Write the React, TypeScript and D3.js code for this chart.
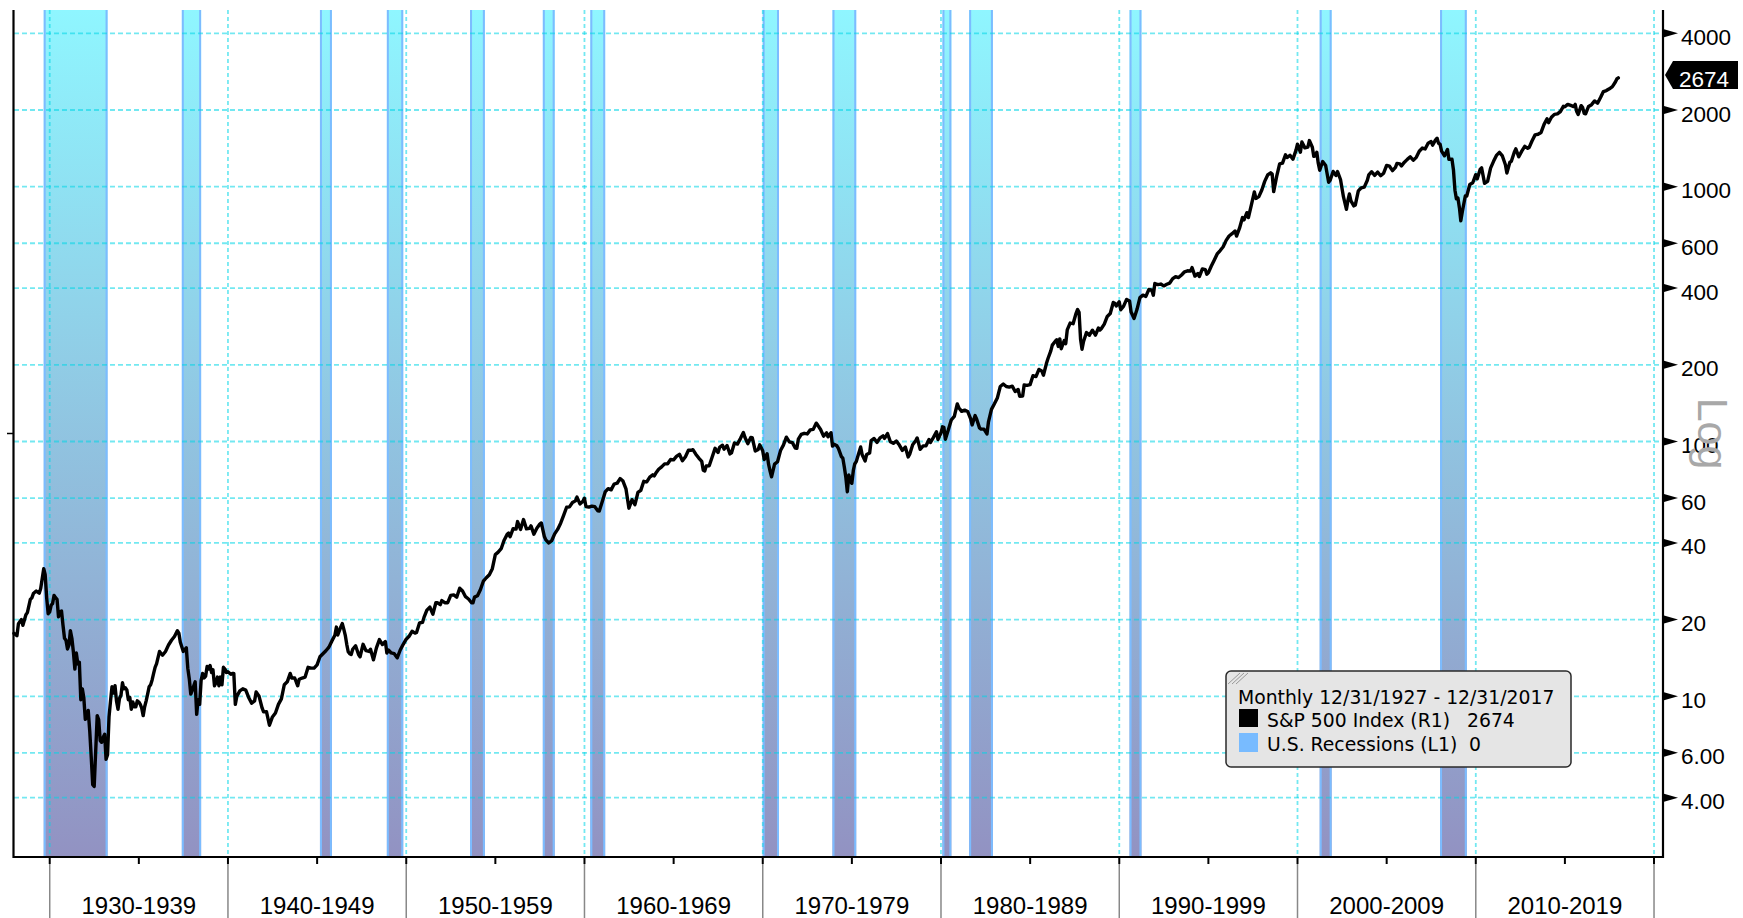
import React, { useEffect } from 'react';
import * as d3 from 'd3';

// ---------- data ----------
type Pt = [string, number];

const SP_1920s: Pt[] = [
  ['1927-12', 17.66], ['1928-02', 17.3], ['1928-03', 19.28], ['1928-05', 20.0], ['1928-06', 19.0],
  ['1928-08', 20.9], ['1928-09', 21.3], ['1928-11', 24.0], ['1928-12', 24.35],
  ['1929-01', 25.3], ['1929-03', 25.9], ['1929-05', 25.4], ['1929-06', 26.5], ['1929-08', 31.7],
  ['1929-09', 30.0], ['1929-10', 24.3], ['1929-11', 21.1], ['1929-12', 21.45],
];
const SP_1930s: Pt[] = [
  ['1930-01', 22.8], ['1930-02', 23.1], ['1930-03', 24.9], ['1930-04', 24.4], ['1930-05', 24.0],
  ['1930-06', 20.5], ['1930-07', 21.5], ['1930-08', 21.6], ['1930-09', 19.0], ['1930-10', 16.9],
  ['1930-11', 16.6], ['1930-12', 15.34],
  ['1931-01', 15.9], ['1931-02', 18.1], ['1931-03', 16.9], ['1931-04', 15.0], ['1931-05', 12.8],
  ['1931-06', 14.8], ['1931-07', 13.4], ['1931-08', 13.6], ['1931-09', 9.7], ['1931-10', 10.7],
  ['1931-11', 9.9], ['1931-12', 8.12],
  ['1932-01', 8.3], ['1932-02', 8.8], ['1932-03', 7.3], ['1932-04', 5.8], ['1932-05', 4.5],
  ['1932-06', 4.43], ['1932-07', 6.1], ['1932-08', 8.4], ['1932-09', 8.1], ['1932-10', 6.7],
  ['1932-11', 6.6], ['1932-12', 6.89],
  ['1933-01', 7.1], ['1933-02', 5.66], ['1933-03', 5.9], ['1933-04', 8.3], ['1933-05', 9.6],
  ['1933-06', 10.9], ['1933-07', 10.3], ['1933-08', 11.0], ['1933-09', 9.6], ['1933-10', 8.9],
  ['1933-11', 9.8], ['1933-12', 10.1],
  ['1934-01', 11.3], ['1934-02', 10.7], ['1934-03', 10.8], ['1934-04', 10.6], ['1934-05', 9.7],
  ['1934-06', 9.9], ['1934-07', 8.9], ['1934-08', 9.5], ['1934-09', 9.1], ['1934-10', 9.1],
  ['1934-11', 9.6], ['1934-12', 9.5],
  ['1935-01', 9.3], ['1935-02', 9.0], ['1935-03', 8.4], ['1935-04', 9.1], ['1935-05', 9.6],
  ['1935-06', 10.2], ['1935-07', 10.9], ['1935-08', 11.1], ['1935-09', 11.6], ['1935-10', 12.3],
  ['1935-11', 13.0], ['1935-12', 13.43],
  ['1936-02', 15.0], ['1936-04', 14.5], ['1936-06', 15.0], ['1936-08', 15.9], ['1936-10', 16.6],
  ['1936-12', 17.18],
  ['1937-02', 18.1], ['1937-03', 17.7], ['1937-04', 16.3], ['1937-06', 15.0], ['1937-08', 15.5],
  ['1937-09', 12.9], ['1937-10', 11.7], ['1937-11', 10.2], ['1937-12', 10.55],
  ['1938-01', 11.0], ['1938-02', 11.4], ['1938-03', 8.5], ['1938-04', 9.7], ['1938-05', 9.3],
  ['1938-06', 11.56], ['1938-07', 12.3], ['1938-08', 11.8], ['1938-09', 12.0], ['1938-10', 13.1],
  ['1938-11', 12.8], ['1938-12', 13.21],
  ['1939-01', 12.4], ['1939-02', 12.7], ['1939-03', 11.0], ['1939-04', 11.3], ['1939-05', 11.9],
  ['1939-06', 11.0], ['1939-07', 11.9], ['1939-08', 11.1], ['1939-09', 13.0], ['1939-10', 12.8],
  ['1939-11', 12.4], ['1939-12', 12.49],
];
const SP_1940s: Pt[] = [
  ['1940-02', 12.2], ['1940-03', 12.3], ['1940-04', 12.3], ['1940-05', 9.3], ['1940-06', 10.0],
  ['1940-08', 10.5], ['1940-10', 10.7], ['1940-12', 10.58],
  ['1941-02', 9.9], ['1941-04', 9.4], ['1941-06', 9.6], ['1941-07', 10.4], ['1941-09', 10.0],
  ['1941-11', 9.0], ['1941-12', 8.69],
  ['1942-02', 8.7], ['1942-04', 7.7], ['1942-06', 8.3], ['1942-08', 8.6], ['1942-10', 9.3],
  ['1942-12', 9.77],
  ['1943-02', 11.1], ['1943-04', 11.4], ['1943-06', 12.3], ['1943-07', 11.8], ['1943-09', 11.8],
  ['1943-11', 11.0], ['1943-12', 11.67],
  ['1944-02', 11.8], ['1944-04', 11.9], ['1944-06', 13.0], ['1944-08', 12.9], ['1944-10', 12.9],
  ['1944-12', 13.28],
  ['1945-02', 14.3], ['1945-04', 14.7], ['1945-06', 15.1], ['1945-08', 15.6], ['1945-10', 16.5],
  ['1945-12', 17.36],
  ['1946-01', 18.7], ['1946-02', 17.4], ['1946-04', 18.7], ['1946-05', 19.3], ['1946-06', 18.4],
  ['1946-07', 17.4], ['1946-08', 16.0], ['1946-09', 14.96], ['1946-10', 14.7], ['1946-11', 14.6],
  ['1946-12', 15.3],
  ['1947-02', 15.8], ['1947-04', 14.6], ['1947-05', 14.3], ['1947-07', 16.0], ['1947-09', 15.1],
  ['1947-11', 15.0], ['1947-12', 15.3],
  ['1948-02', 13.9], ['1948-04', 15.5], ['1948-06', 16.7], ['1948-08', 15.97], ['1948-10', 16.4],
  ['1948-11', 14.8], ['1948-12', 15.2],
  ['1949-02', 14.8], ['1949-04', 14.7], ['1949-06', 14.16], ['1949-08', 15.2], ['1949-10', 16.0],
  ['1949-12', 16.76],
];
const SP_1950s: Pt[] = [
  ['1950-02', 17.2], ['1950-04', 18.0], ['1950-06', 17.7], ['1950-07', 17.8], ['1950-09', 19.4],
  ['1950-11', 19.5], ['1950-12', 20.41],
  ['1951-02', 21.8], ['1951-04', 22.4], ['1951-06', 21.0], ['1951-08', 23.3], ['1951-09', 23.3],
  ['1951-11', 22.9], ['1951-12', 23.77],
  ['1952-02', 23.3], ['1952-04', 23.3], ['1952-06', 24.9], ['1952-08', 25.0], ['1952-10', 24.5],
  ['1952-12', 26.57],
  ['1953-02', 25.9], ['1953-04', 24.6], ['1953-06', 24.1], ['1953-08', 23.3], ['1953-09', 23.3],
  ['1953-10', 24.5], ['1953-12', 24.81],
  ['1954-02', 26.2], ['1954-04', 28.3], ['1954-06', 29.2], ['1954-08', 30.0], ['1954-10', 31.7],
  ['1954-12', 35.98],
  ['1955-02', 36.8], ['1955-04', 37.96], ['1955-06', 41.0], ['1955-08', 43.2], ['1955-09', 43.7],
  ['1955-10', 42.3], ['1955-12', 45.48],
  ['1956-02', 45.3], ['1956-03', 48.5], ['1956-05', 45.2], ['1956-07', 49.4], ['1956-09', 45.4],
  ['1956-11', 45.6], ['1956-12', 46.67],
  ['1957-02', 43.3], ['1957-04', 45.7], ['1957-06', 47.4], ['1957-07', 47.9], ['1957-09', 42.4],
  ['1957-10', 41.1], ['1957-12', 39.99],
  ['1958-02', 40.8], ['1958-04', 43.4], ['1958-06', 45.2], ['1958-08', 47.8], ['1958-10', 51.3],
  ['1958-12', 55.21],
  ['1959-02', 55.4], ['1959-04', 57.6], ['1959-06', 58.5], ['1959-07', 60.5], ['1959-09', 56.9],
  ['1959-11', 58.3], ['1959-12', 59.89],
];
const SP_1960s: Pt[] = [
  ['1960-01', 55.6], ['1960-03', 55.3], ['1960-05', 55.8], ['1960-07', 55.5], ['1960-09', 53.5],
  ['1960-10', 53.4], ['1960-12', 58.11],
  ['1961-02', 63.4], ['1961-04', 65.3], ['1961-06', 64.6], ['1961-08', 68.1], ['1961-10', 68.6],
  ['1961-12', 71.55],
  ['1962-02', 69.96], ['1962-04', 65.2], ['1962-05', 59.6], ['1962-06', 54.75], ['1962-08', 59.1],
  ['1962-10', 56.5], ['1962-12', 63.1],
  ['1963-02', 64.3], ['1963-04', 69.8], ['1963-06', 69.4], ['1963-08', 72.5], ['1963-10', 74.0],
  ['1963-11', 73.2], ['1963-12', 75.02],
  ['1964-02', 77.8], ['1964-04', 79.5], ['1964-06', 81.7], ['1964-08', 81.8], ['1964-10', 85.0],
  ['1964-12', 84.75],
  ['1965-02', 87.4], ['1965-04', 89.1], ['1965-06', 84.1], ['1965-08', 87.2], ['1965-10', 92.4],
  ['1965-12', 92.43],
  ['1966-01', 92.9], ['1966-03', 89.2], ['1966-05', 86.1], ['1966-07', 83.6], ['1966-08', 77.1],
  ['1966-09', 76.6], ['1966-10', 80.2], ['1966-12', 80.33],
  ['1967-02', 86.8], ['1967-04', 94.0], ['1967-06', 90.6], ['1967-07', 94.8], ['1967-09', 96.7],
  ['1967-10', 93.3], ['1967-12', 96.47],
  ['1968-02', 89.4], ['1968-03', 90.2], ['1968-05', 98.7], ['1968-07', 97.7], ['1968-09', 102.7],
  ['1968-11', 108.4], ['1968-12', 103.86],
  ['1969-02', 98.1], ['1969-04', 103.7], ['1969-05', 103.5], ['1969-06', 97.7], ['1969-07', 91.8],
  ['1969-09', 93.1], ['1969-10', 97.1], ['1969-12', 92.06],
];
const SP_1970s: Pt[] = [
  ['1970-01', 85.0], ['1970-03', 89.6], ['1970-04', 81.5], ['1970-05', 76.6], ['1970-06', 72.7],
  ['1970-08', 81.5], ['1970-10', 83.3], ['1970-12', 92.15],
  ['1971-02', 96.8], ['1971-04', 104.0], ['1971-06', 99.7], ['1971-08', 99.0], ['1971-10', 94.2],
  ['1971-11', 93.99], ['1971-12', 102.09],
  ['1972-02', 106.6], ['1972-04', 107.7], ['1972-06', 107.1], ['1972-08', 111.1], ['1972-10', 111.6],
  ['1972-12', 118.05],
  ['1973-01', 116.0], ['1973-03', 111.5], ['1973-05', 104.95], ['1973-07', 108.2], ['1973-08', 104.3],
  ['1973-10', 108.3], ['1973-11', 95.96], ['1973-12', 97.55],
  ['1974-02', 96.2], ['1974-03', 93.98], ['1974-05', 87.3], ['1974-06', 86.0], ['1974-07', 79.3],
  ['1974-08', 72.2], ['1974-09', 63.54], ['1974-10', 73.9], ['1974-11', 69.97], ['1974-12', 68.56],
  ['1975-01', 76.98], ['1975-02', 81.6], ['1975-03', 83.36], ['1975-05', 91.2], ['1975-06', 95.19],
  ['1975-07', 88.75], ['1975-09', 83.87], ['1975-10', 89.0], ['1975-12', 90.19],
  ['1976-01', 100.86], ['1976-03', 102.8], ['1976-05', 99.2], ['1976-07', 103.4], ['1976-09', 105.2],
  ['1976-10', 102.9], ['1976-12', 107.46],
  ['1977-02', 99.8], ['1977-04', 98.4], ['1977-06', 100.5], ['1977-08', 96.8], ['1977-10', 92.3],
  ['1977-12', 95.1],
  ['1978-02', 87.0], ['1978-03', 89.2], ['1978-05', 97.2], ['1978-07', 100.7], ['1978-08', 103.3],
  ['1978-10', 93.2], ['1978-12', 96.11],
  ['1979-02', 96.3], ['1979-04', 101.8], ['1979-05', 99.1], ['1979-07', 103.8], ['1979-09', 109.3],
  ['1979-10', 101.8], ['1979-12', 107.94],
];
const SP_1980s: Pt[] = [
  ['1980-01', 114.2], ['1980-02', 113.7], ['1980-03', 102.1], ['1980-05', 111.2], ['1980-07', 121.7],
  ['1980-09', 125.5], ['1980-11', 140.5], ['1980-12', 135.76],
  ['1981-02', 131.3], ['1981-04', 132.8], ['1981-06', 131.2], ['1981-08', 122.8], ['1981-09', 116.2],
  ['1981-11', 126.4], ['1981-12', 122.55],
  ['1982-02', 113.1], ['1982-03', 111.96], ['1982-05', 111.9], ['1982-07', 107.1], ['1982-08', 119.5],
  ['1982-10', 133.7], ['1982-12', 140.64],
  ['1983-02', 148.1], ['1983-04', 164.4], ['1983-06', 168.1], ['1983-08', 164.4], ['1983-10', 163.6],
  ['1983-12', 164.93],
  ['1984-02', 157.1], ['1984-04', 160.1], ['1984-05', 150.6], ['1984-07', 150.7], ['1984-08', 166.7],
  ['1984-10', 166.1], ['1984-12', 167.24],
  ['1985-02', 181.2], ['1985-04', 179.8], ['1985-06', 191.85], ['1985-08', 188.6], ['1985-09', 182.08],
  ['1985-11', 202.2], ['1985-12', 211.28],
  ['1986-02', 226.9], ['1986-03', 238.9], ['1986-05', 247.4], ['1986-06', 250.84], ['1986-07', 236.1],
  ['1986-08', 252.9], ['1986-09', 231.32], ['1986-11', 249.2], ['1986-12', 242.17],
  ['1987-01', 274.1], ['1987-03', 291.7], ['1987-05', 290.1], ['1987-07', 318.7], ['1987-08', 329.8],
  ['1987-09', 321.8], ['1987-10', 251.8], ['1987-11', 230.3], ['1987-12', 247.08],
  ['1988-02', 267.8], ['1988-04', 261.3], ['1988-06', 273.5], ['1988-08', 261.5], ['1988-10', 278.97],
  ['1988-11', 273.7], ['1988-12', 277.72],
  ['1989-02', 288.9], ['1989-04', 309.6], ['1989-06', 317.98], ['1989-08', 351.45], ['1989-09', 349.15],
  ['1989-10', 340.36], ['1989-12', 353.4],
];
const SP_1990s: Pt[] = [
  ['1990-01', 329.08], ['1990-03', 339.94], ['1990-05', 361.23], ['1990-07', 356.15], ['1990-08', 322.56],
  ['1990-10', 304.0], ['1990-12', 330.22],
  ['1991-02', 367.07], ['1991-04', 375.35], ['1991-06', 371.16], ['1991-08', 395.43], ['1991-10', 392.45],
  ['1991-11', 375.22], ['1991-12', 417.09],
  ['1992-02', 412.7], ['1992-04', 414.95], ['1992-06', 408.14], ['1992-08', 414.03], ['1992-10', 418.68],
  ['1992-12', 435.71],
  ['1993-02', 443.38], ['1993-04', 440.19], ['1993-06', 450.53], ['1993-08', 463.56], ['1993-10', 467.83],
  ['1993-12', 466.45],
  ['1994-01', 481.61], ['1994-03', 445.77], ['1994-05', 456.5], ['1994-06', 444.27], ['1994-08', 475.49],
  ['1994-10', 472.35], ['1994-11', 453.69], ['1994-12', 459.27],
  ['1995-02', 487.39], ['1995-04', 514.71], ['1995-06', 544.75], ['1995-08', 561.88], ['1995-10', 581.5],
  ['1995-12', 615.93],
  ['1996-02', 640.43], ['1996-04', 654.17], ['1996-06', 670.63], ['1996-07', 639.95], ['1996-09', 687.31],
  ['1996-11', 757.02], ['1996-12', 740.74],
  ['1997-02', 790.82], ['1997-03', 757.12], ['1997-05', 848.28], ['1997-07', 954.29], ['1997-08', 899.47],
  ['1997-10', 914.62], ['1997-12', 970.43],
  ['1998-02', 1049.34], ['1998-04', 1111.75], ['1998-06', 1133.84], ['1998-07', 1120.67], ['1998-08', 957.28],
  ['1998-10', 1098.67], ['1998-12', 1229.23],
  ['1999-02', 1238.33], ['1999-04', 1335.18], ['1999-05', 1301.84], ['1999-07', 1328.72], ['1999-09', 1282.71],
  ['1999-11', 1388.91], ['1999-12', 1469.25],
];
const SP_2000s: Pt[] = [
  ['2000-02', 1366.42], ['2000-03', 1498.58], ['2000-05', 1420.6], ['2000-07', 1430.83], ['2000-08', 1517.68],
  ['2000-10', 1429.4], ['2000-11', 1315.23], ['2000-12', 1320.28],
  ['2001-01', 1366.01], ['2001-02', 1239.94], ['2001-03', 1160.33], ['2001-05', 1255.82], ['2001-07', 1211.23],
  ['2001-09', 1040.94], ['2001-10', 1059.78], ['2001-12', 1148.08],
  ['2002-02', 1106.73], ['2002-03', 1147.39], ['2002-05', 1067.14], ['2002-07', 911.62], ['2002-09', 815.28],
  ['2002-10', 885.76], ['2002-11', 936.31], ['2002-12', 879.82],
  ['2003-02', 841.15], ['2003-03', 848.18], ['2003-05', 963.59], ['2003-07', 990.31], ['2003-09', 995.97],
  ['2003-11', 1058.2], ['2003-12', 1111.92],
  ['2004-02', 1144.94], ['2004-04', 1107.3], ['2004-06', 1140.84], ['2004-08', 1104.24], ['2004-10', 1130.2],
  ['2004-12', 1211.92],
  ['2005-02', 1203.6], ['2005-04', 1156.85], ['2005-06', 1191.33], ['2005-07', 1234.18], ['2005-09', 1228.81],
  ['2005-10', 1207.01], ['2005-12', 1248.29],
  ['2006-02', 1280.66], ['2006-04', 1310.61], ['2006-06', 1270.2], ['2006-08', 1303.82], ['2006-10', 1377.94],
  ['2006-12', 1418.3],
  ['2007-02', 1406.82], ['2007-04', 1482.37], ['2007-06', 1503.35], ['2007-07', 1455.27], ['2007-09', 1526.75],
  ['2007-10', 1549.38], ['2007-11', 1481.14], ['2007-12', 1468.36],
  ['2008-01', 1378.55], ['2008-03', 1322.7], ['2008-05', 1400.38], ['2008-06', 1280.0], ['2008-08', 1282.83],
  ['2008-09', 1166.36], ['2008-10', 968.75], ['2008-11', 896.24], ['2008-12', 903.25],
  ['2009-01', 825.88], ['2009-02', 735.09], ['2009-03', 797.87], ['2009-05', 919.14], ['2009-06', 919.32],
  ['2009-08', 1020.62], ['2009-10', 1036.19], ['2009-12', 1115.1],
];
const SP_2010s: Pt[] = [
  ['2010-01', 1073.87], ['2010-03', 1169.43], ['2010-04', 1186.69], ['2010-06', 1030.71], ['2010-08', 1049.33],
  ['2010-10', 1183.26], ['2010-12', 1257.64],
  ['2011-02', 1327.22], ['2011-04', 1363.61], ['2011-06', 1320.64], ['2011-08', 1218.89], ['2011-09', 1131.42],
  ['2011-11', 1246.96], ['2011-12', 1257.6],
  ['2012-02', 1365.68], ['2012-03', 1408.47], ['2012-05', 1310.33], ['2012-07', 1379.32], ['2012-09', 1440.67],
  ['2012-11', 1416.18], ['2012-12', 1426.19],
  ['2013-02', 1514.68], ['2013-04', 1597.57], ['2013-06', 1606.28], ['2013-08', 1632.97], ['2013-10', 1756.54],
  ['2013-12', 1848.36],
  ['2014-01', 1782.59], ['2014-03', 1872.34], ['2014-05', 1923.57], ['2014-07', 1930.67], ['2014-09', 1972.29],
  ['2014-11', 2067.56], ['2014-12', 2058.9],
  ['2015-02', 2104.5], ['2015-04', 2085.51], ['2015-06', 2063.11], ['2015-07', 2103.84], ['2015-08', 1972.18],
  ['2015-09', 1920.03], ['2015-11', 2080.41], ['2015-12', 2043.94],
  ['2016-01', 1940.24], ['2016-02', 1932.23], ['2016-04', 2065.3], ['2016-06', 2098.86], ['2016-08', 2170.95],
  ['2016-10', 2126.15], ['2016-12', 2238.83],
  ['2017-02', 2363.64], ['2017-04', 2384.2], ['2017-06', 2423.41], ['2017-08', 2471.65], ['2017-10', 2575.26],
  ['2017-11', 2647.58], ['2017-12', 2673.61],
];

// NBER recessions: [first month, last month]
const RECESSIONS: [string, string][] = [
  ['1929-08', '1933-03'], ['1937-05', '1938-06'], ['1945-02', '1945-10'], ['1948-11', '1949-10'],
  ['1953-07', '1954-05'], ['1957-08', '1958-04'], ['1960-04', '1961-02'], ['1969-12', '1970-11'],
  ['1973-11', '1975-03'], ['1980-01', '1980-07'], ['1981-07', '1982-11'], ['1990-07', '1991-03'],
  ['2001-03', '2001-11'], ['2007-12', '2009-06'],
];

const DECADE_STARTS = [1930, 1940, 1950, 1960, 1970, 1980, 1990, 2000, 2010, 2020];
const DECADE_LABELS = ['1930-1939', '1940-1949', '1950-1959', '1960-1969', '1970-1979',
  '1980-1989', '1990-1999', '2000-2009', '2010-2019'];
const RIGHT_TICKS = [4000, 2000, 1000, 600, 400, 200, 100, 60, 40, 20, 10, 6, 4];
const LEFT_TICKS = [1];

const LEGEND_TITLE = 'Monthly 12/31/1927 - 12/31/2017';
const LEGEND_SERIES = ['S&P 500 Index (R1)', 'U.S. Recessions (L1)'];
const RECESSION_LAST = 0;

// ---------- layout ----------
const W = 1743;
const H = 918;
const PL = 14, PR = 1663, PT = 10, PB = 857;

const monthEnd = (s: string) => {
  const [y, m] = s.split('-').map(Number);
  return new Date(y, m, 0);
};

const SP500 = [...SP_1920s, ...SP_1930s, ...SP_1940s, ...SP_1950s, ...SP_1960s,
  ...SP_1970s, ...SP_1980s, ...SP_1990s, ...SP_2000s, ...SP_2010s]
  .map(([d, v]) => ({ date: monthEnd(d), value: v }));

const x = d3.scaleTime().domain([new Date(1927, 11, 31), new Date(2020, 6, 3)]).range([PL, PR]);
const y = d3.scaleLog().domain([2.341, 4938]).range([PB, PT]);
const yL = d3.scaleLinear().domain([0, 2]).range([PB, PT]);

const fmtRight = (v: number) => (v < 10 ? v.toFixed(2) : String(v));

const GRID = '#00d6e6';
const LABEL_FONT = '"Liberation Sans", Arial, sans-serif';
const LEG_FONT = '"DejaVu Sans", sans-serif';

export default function App() {
  useEffect(() => {
    document.body.style.margin = '0';
    document.body.style.overflow = 'hidden';
  }, []);

  const line = d3.line<{ date: Date; value: number }>()
    .x(d => x(d.date))
    .y(d => y(d.value));

  const last = SP500[SP500.length - 1];
  const tagY = y(last.value) - 3;

  return (
    <svg width={W} height={H} style={{ display: 'block', background: '#fff' }}>
      <defs>
        <linearGradient id="recGrad" gradientUnits="userSpaceOnUse" x1={0} y1={PT} x2={0} y2={PB}>
          <stop offset="0" stopColor="#8ff6ff" />
          <stop offset="1" stopColor="#9292c2" />
        </linearGradient>
      </defs>

      {/* recession bands */}
      {RECESSIONS.map(([s, e], i) => {
        const x0 = x(monthEnd(s));
        const x1 = x(monthEnd(e));
        return (
          <g key={'r' + i}>
            <rect x={x0} y={PT} width={x1 - x0} height={PB - PT} fill="url(#recGrad)" />
            <line x1={x0 + 1} x2={x0 + 1} y1={PT} y2={PB} stroke="#7cbcff" strokeWidth={2} />
            <line x1={x1 - 1} x2={x1 - 1} y1={PT} y2={PB} stroke="#7cbcff" strokeWidth={2} />
          </g>
        );
      })}

      {/* horizontal grid */}
      {RIGHT_TICKS.map(v => (
        <line key={'hg' + v} x1={PL} x2={PR} y1={y(v)} y2={y(v)}
          stroke={GRID} strokeOpacity={0.55} strokeWidth={1.8} strokeDasharray="5,3" />
      ))}
      {/* vertical grid */}
      {DECADE_STARTS.map(yr => (
        <line key={'vg' + yr} x1={x(new Date(yr, 0, 1))} x2={x(new Date(yr, 0, 1))} y1={PT} y2={PB}
          stroke={GRID} strokeOpacity={0.55} strokeWidth={1.8} strokeDasharray="4,3" />
      ))}

      {/* S&P 500 line */}
      <path d={line(SP500) || ''} fill="none" stroke="#000" strokeWidth={3.4}
        strokeLinejoin="round" strokeLinecap="round" />

      {/* left axis */}
      <line x1={PL - 0.5} x2={PL - 0.5} y1={PT} y2={PB + 1} stroke="#000" strokeWidth={2.2} />
      {LEFT_TICKS.map(v => (
        <line key={'lt' + v} x1={7} x2={PL} y1={yL(v)} y2={yL(v)} stroke="#000" strokeWidth={1.5} />
      ))}

      {/* right axis */}
      <line x1={PR} x2={PR} y1={PT} y2={PB + 1} stroke="#000" strokeWidth={2.2} />
      {RIGHT_TICKS.map(v => {
        const yy = y(v);
        return (
          <g key={'rt' + v}>
            <path d={`M${PR + 1},${yy - 4}L${PR + 15},${yy}L${PR + 1},${yy + 4}Z`} fill="#000" />
            <text x={PR + 18} y={yy + 11.5} fontFamily={LABEL_FONT} fontSize={22.5} fill="#000">
              {fmtRight(v)}
            </text>
          </g>
        );
      })}

      {/* Log label */}
      <text transform={`translate(1698, ${y(100) - 8}) rotate(90)`} textAnchor="middle"
        fontFamily={LABEL_FONT} fontSize={43} fill="#a8a8a8">Log</text>

      {/* last price tag */}
      <path d={`M1665,${tagY}L1673,${tagY - 14}L1738,${tagY - 14}L1738,${tagY + 14}L1673,${tagY + 14}Z`}
        fill="#000" />
      <text x={1679} y={tagY + 12} fontFamily={LABEL_FONT} fontSize={22.5} fill="#fff">
        {Math.round(last.value)}
      </text>

      {/* bottom axis */}
      <line x1={PL - 1} x2={PR + 1} y1={PB} y2={PB} stroke="#000" strokeWidth={2.2} />
      {DECADE_STARTS.map(yr => {
        const xx = x(new Date(yr, 0, 1));
        return (
          <g key={'bt' + yr}>
            <line x1={xx} x2={xx} y1={PB + 7} y2={H} stroke="#888" strokeWidth={1.5} />
            <line x1={xx} x2={xx} y1={PB} y2={PB + 7} stroke="#000" strokeWidth={2} />
          </g>
        );
      })}
      {DECADE_STARTS.slice(0, -1).map(yr => {
        const xx = x(new Date(yr + 5, 0, 1));
        return <line key={'mt' + yr} x1={xx} x2={xx} y1={PB} y2={PB + 7} stroke="#000" strokeWidth={2} />;
      })}
      {DECADE_LABELS.map((lab, i) => {
        const xa = x(new Date(DECADE_STARTS[i], 0, 1));
        const xb = x(new Date(DECADE_STARTS[i + 1], 0, 1));
        return (
          <text key={'dl' + i} x={(xa + xb) / 2} y={914} textAnchor="middle"
            fontFamily={LABEL_FONT} fontSize={24} fill="#000">{lab}</text>
        );
      })}

      {/* legend */}
      <g>
        <rect x={1226} y={671} width={345} height={96} rx={5} ry={5}
          fill="#e5e5e5" stroke="#2a2a2a" strokeWidth={1.5} />
        {[0, 4, 8].map(o => (
          <line key={'h' + o} x1={1228 + o} y1={684} x2={1240 + o} y2={673}
            stroke="#999" strokeWidth={1} />
        ))}
        <text x={1238} y={704} fontFamily={LEG_FONT} fontSize={18.8} fill="#000">{LEGEND_TITLE}</text>
        <rect x={1239} y={709} width={19} height={18} fill="#000" />
        <text x={1267} y={726.5} fontFamily={LEG_FONT} fontSize={18.8} fill="#000">{LEGEND_SERIES[0]}</text>
        <text x={1467} y={726.5} fontFamily={LEG_FONT} fontSize={18.8} fill="#000">{Math.round(last.value)}</text>
        <rect x={1239} y={733} width={19} height={19} fill="#78bbff" />
        <text x={1267} y={750.5} fontFamily={LEG_FONT} fontSize={18.8} fill="#000">{LEGEND_SERIES[1]}</text>
        <text x={1469} y={750.5} fontFamily={LEG_FONT} fontSize={18.8} fill="#000">{RECESSION_LAST}</text>
      </g>
    </svg>
  );
}
